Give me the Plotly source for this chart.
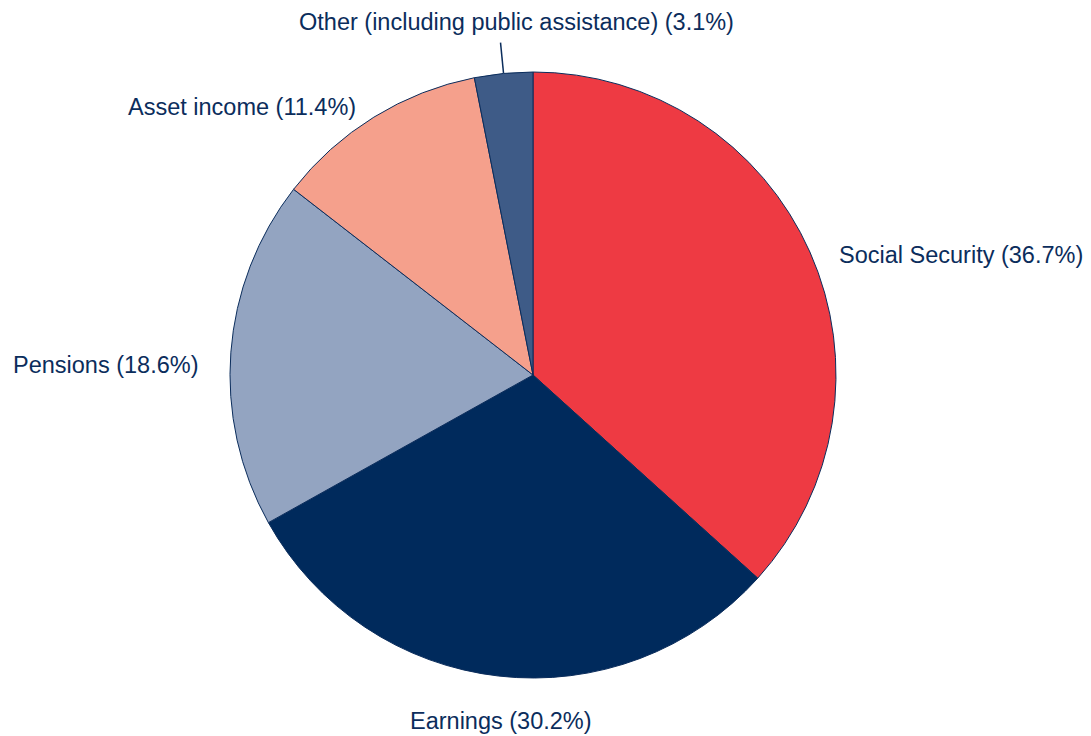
import math
import plotly.graph_objects as go

labels = ['Social Security', 'Earnings', 'Pensions', 'Asset income',
          'Other (including public assistance)']
shares = [36.7, 30.2, 18.6, 11.4, 3.1]
colors = ['#EE3A43', '#002A5C', '#93A4C1', '#F5A08C', '#3E5B87']
called_out = 4   # the thin slice whose label sits above, on a leader line

W, H = 1091, 736
cx, cy = 525, 367     # pie centre (px in the figure)
r_pie = 303
r_lab = 333           # labels hang from this radius
navy = '#0B2D5C'
font = dict(family='Liberation Sans, Arial, sans-serif', size=23.5, color=navy)

fig = go.Figure(go.Pie(
    labels=labels,
    values=shares,
    sort=False,
    direction='clockwise',
    rotation=0,
    domain=dict(x=[(cx - r_pie) / W, (cx + r_pie) / W],
                y=[1 - (cy + r_pie) / H, 1 - (cy - r_pie) / H]),
    marker=dict(colors=colors, line=dict(color=navy, width=1)),
    textinfo='none',
    hoverinfo='label+value',
    showlegend=False,
))


def at(r, ang):
    # pixel point -> paper coords
    return (cx + r * math.sin(ang)) / W, 1 - (cy - r * math.cos(ang)) / H


total = sum(shares)
cum = 0
for i, (lab, v) in enumerate(zip(labels, shares)):
    mid = 2 * math.pi * (cum + v / 2) / total
    cum += v
    text = '%s (%.1f%%)' % (lab, v)
    if i == called_out:
        x0, y0 = at(r_pie, mid)
        x1, y1 = at(r_pie + 31, mid)
        fig.add_shape(type='line', xref='paper', yref='paper',
                      x0=x0, y0=y0, x1=x1, y1=y1,
                      line=dict(color=navy, width=1.5))
        fig.add_annotation(x=x1, y=y1, xref='paper', yref='paper', text=text,
                           showarrow=False, font=font, xanchor='center',
                           yanchor='bottom', xshift=16, yshift=6)
        continue
    s = math.sin(mid)
    xanchor = 'left' if s > 0.2 else 'right' if s < -0.2 else 'center'
    x, y = at(r_lab, mid)
    fig.add_annotation(x=x, y=y, xref='paper', yref='paper', text=text,
                       showarrow=False, font=font, xanchor=xanchor, yanchor='top',
                       xshift=6 if xanchor == 'center' else 0)

fig.update_layout(
    width=W, height=H,
    margin=dict(l=0, r=0, t=0, b=0),
    paper_bgcolor='white',
    plot_bgcolor='white',
)

fig.write_html('out.html')
